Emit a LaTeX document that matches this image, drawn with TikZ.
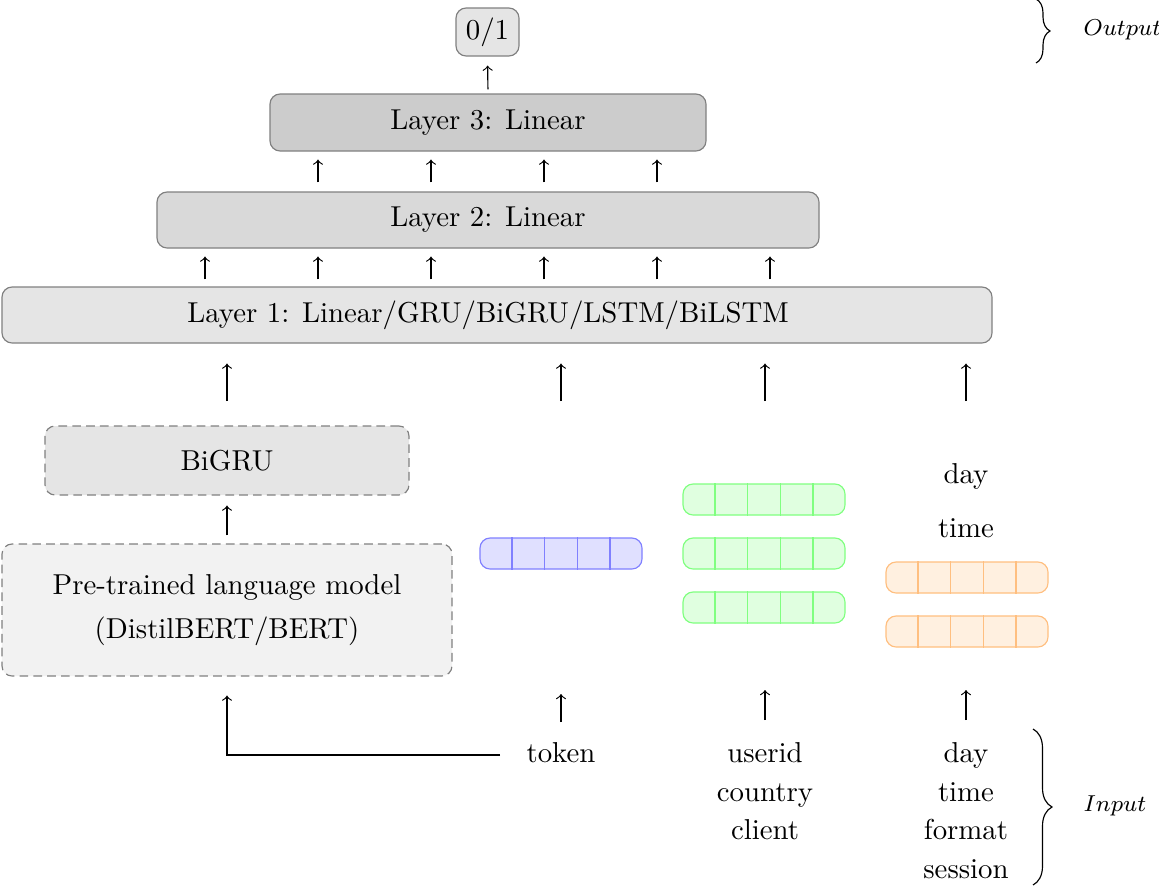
\documentclass[tikz,border=0pt]{standalone}
\usetikzlibrary{calc,decorations.pathreplacing}
\def\px{0.3472pt}
\tikzset{
  box/.style={draw=gray, rounded corners=3.5pt, inner sep=0pt, font=\fontsize{10}{12}\selectfont},
  dbox/.style={box, dashed, dash pattern=on 3pt off 1.8pt},
  arr/.style={->, line width=0.4pt},
  vecb/.style={draw=blue!50, fill=blue!12, rounded corners=3.5pt, minimum width=162*\px, minimum height=31*\px, inner sep=0pt},
  vecg/.style={vecb, draw=green!50, fill=green!12},
  veco/.style={vecb, draw=orange!50, fill=orange!12},
  lbl/.style={inner sep=0pt, font=\fontsize{10}{13.4}\selectfont, align=center},
  brc/.style={decorate, line width=0.4pt},
  side/.style={font=\fontsize{8.3}{10}\selectfont, anchor=west, inner sep=0pt},
}
\newcommand\vcells[2]{%
  \foreach \k in {0.2,0.4,0.6,0.8}
    \draw[#2] ($(#1.north west)!\k!(#1.north east)$) -- ($(#1.south west)!\k!(#1.south east)$);}
\begin{document}
\begin{tikzpicture}[x=0.3472pt, y=-0.3472pt]
\useasboundingbox (0,0) rectangle (1159,886);

% output and layers
\node[box, fill=gray!20, minimum width=63*\px, minimum height=48*\px] (out) at (487.5,32) {0/1};
\node[box, fill=gray!40, minimum width=436*\px, minimum height=57*\px] (L3) at (488,122.5) {Layer 3: Linear};
\node[box, fill=gray!30, minimum width=662*\px, minimum height=56*\px] (L2) at (488,220) {Layer 2: Linear};
\node[box, fill=gray!20, minimum width=990*\px, minimum height=56*\px] (L1) at (497,315) {\hspace*{-6.25pt}Layer 1: Linear/GRU/BiGRU/LSTM/BiLSTM};

% text model
\node[dbox, fill=gray!20, minimum width=364*\px, minimum height=69*\px] (bigru) at (227,460.5) {BiGRU};
\node[dbox, fill=gray!10, minimum width=450*\px, minimum height=132*\px, align=center, font=\fontsize{10}{15.3}\selectfont] (plm) at (227,610) {Pre-trained language model\\(DistilBERT/BERT)};

% vectors
\node[vecb] (tv) at (561,553.5) {};
\vcells{tv}{blue!50}
\node[vecg] (g1) at (764,499.5) {};
\node[vecg] (g2) at (764,553.5) {};
\node[vecg] (g3) at (764,607.5) {};
\vcells{g1}{green!50}
\vcells{g2}{green!50}
\vcells{g3}{green!50}
\node[veco] (o1) at (967,577.5) {};
\node[veco] (o2) at (967,631.5) {};
\vcells{o1}{orange!50}
\vcells{o2}{orange!50}
\node[lbl, anchor=base] (dayl) at (966,483) {day};
\node[lbl, anchor=base] (timel) at (966,537) {time};

% inputs
\node[lbl, anchor=base] (tok) at (561,762) {token};
\node[lbl, anchor=north] (uc) at (765,742) {userid\\country\\client};
\node[lbl, anchor=north] (dt) at (966,742) {day\\time\\format\\session};

% arrows between layers
\draw[arr, shorten <=4*\px, shorten >=9*\px] (L3.north) -- (out.south);
\foreach \xx in {318,431,544,657}{
  \coordinate (c) at (\xx,0);
  \draw[arr, shorten <=9*\px, shorten >=8*\px] (c |- L2.north) -- (c |- L3.south);
}
\foreach \xx in {205,318,431,544,657,770}{
  \coordinate (c) at (\xx,0);
  \draw[arr, shorten <=7*\px, shorten >=8*\px] (c |- L1.north) -- (c |- L2.south);
}
% long arrows into layer 1
\foreach \xx/\nm in {227/a1,561/a2,765/a3,966/a4}{
  \coordinate (\nm) at (\xx,401);
  \draw[arr, shorten >=20*\px] (\nm) -- (\nm |- L1.south);
}
% BiGRU <- PLM
\draw[arr, shorten <=8*\px, shorten >=10*\px] (plm.north) -- (bigru.south);
% token -> PLM
\coordinate (tk) at (500,755);
\draw[arr, shorten >=19*\px] (tk) -| (plm.south);
% input arrows
\coordinate (i2) at (561,722);
\coordinate (i3) at (765,720);
\coordinate (i4) at (966,720);
\draw[arr] (i2) -- ++(0,-28);
\draw[arr] (i3) -- ++(0,-30);
\draw[arr] (i4) -- ++(0,-30);

% braces
\coordinate (ob1) at (1036,-1);
\coordinate (ob2) at (1036,63);
\draw[brc, decoration={brace, amplitude=14*\px}] (ob1) -- (ob2);
\node[side] (outl) at (1083,30) {$Output$};
\coordinate (ib1) at (1033,729);
\coordinate (ib2) at (1033,885);
\draw[brc, decoration={brace, amplitude=19*\px}] (ib1) -- (ib2);
\node[side] (inl) at (1083,806) {$Input$};
\end{tikzpicture}
\end{document}
